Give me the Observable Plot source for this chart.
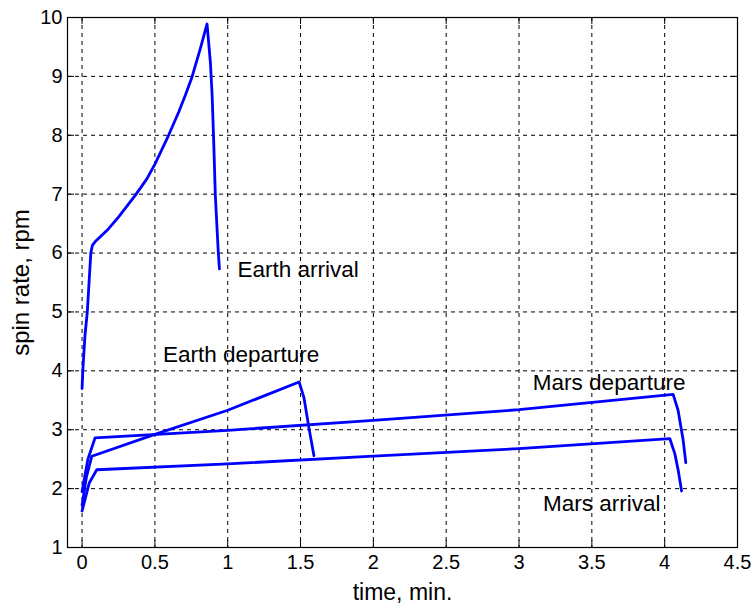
<!DOCTYPE html>
<html>
<head>
<meta charset="utf-8">
<script src="https://cdn.jsdelivr.net/npm/d3@7"></script>
<script src="https://cdn.jsdelivr.net/npm/@observablehq/plot@0.6"></script>
<style>
  html, body { margin: 0; padding: 0; background: #fff; }
  #chart svg { display: block; }
</style>
</head>
<body>
<div id="chart"></div>
<script>
// Series (time in min, spin rate in rpm)
const earthArrivalT = [0, 0.005, 0.02, 0.036, 0.06, 0.071, 0.089, 0.181, 0.25, 0.365, 0.445, 0.502, 0.594, 0.663, 0.709, 0.755, 0.812, 0.858, 0.881, 0.893, 0.904, 0.915, 0.934, 0.943];
const earthArrivalR = [3.7, 4.0, 4.6, 5.0, 6.0, 6.13, 6.19, 6.41, 6.61, 6.98, 7.26, 7.52, 8.0, 8.39, 8.68, 8.99, 9.47, 9.89, 9.24, 8.68, 7.88, 6.98, 6.07, 5.73];

const earthDepartureT = [0, 0.03, 0.067, 0.5, 1.0, 1.49, 1.523, 1.557, 1.592];
const earthDepartureR = [1.72, 2.2, 2.55, 2.92, 3.33, 3.81, 3.55, 3.04, 2.56];

const marsDepartureT = [0, 0.04, 0.089, 1.0, 2.0, 3.0, 4.058, 4.092, 4.127, 4.145];
const marsDepartureR = [1.95, 2.5, 2.86, 2.99, 3.16, 3.34, 3.60, 3.33, 2.82, 2.44];

const marsArrivalT = [0, 0.05, 0.101, 1.0, 2.0, 3.0, 4.035, 4.07, 4.093, 4.116];
const marsArrivalR = [1.62, 2.1, 2.32, 2.42, 2.55, 2.68, 2.85, 2.59, 2.31, 1.96];

// Annotation labels
const labelTexts = ["Earth arrival", "Earth departure", "Mars departure", "Mars arrival"];
const labelT = [1.067, 0.555, 3.095, 3.164];
const labelR = [5.72, 4.28, 3.79, 1.75];

// Ticks
const xTicks = [0, 0.5, 1, 1.5, 2, 2.5, 3, 3.5, 4, 4.5];
const xTickLabels = ["0", "0.5", "1", "1.5", "2", "2.5", "3", "3.5", "4", "4.5"];
const yTicks = [1, 2, 3, 4, 5, 6, 7, 8, 9, 10];
const yTickLabels = ["1", "2", "3", "4", "5", "6", "7", "8", "9", "10"];

const seriesList = [
  {name: "Earth arrival", t: earthArrivalT, r: earthArrivalR},
  {name: "Earth departure", t: earthDepartureT, r: earthDepartureR},
  {name: "Mars departure", t: marsDepartureT, r: marsDepartureR},
  {name: "Mars arrival", t: marsArrivalT, r: marsArrivalR}
];
const lineData = seriesList.flatMap(s => s.t.map((t, i) => ({series: s.name, t, r: s.r[i]})));
const labels = labelTexts.map((text, i) => ({text, t: labelT[i], r: labelR[i]}));

const W = 751, H = 609;
const mL = 67, mR = 14, mT = 17, mB = 62;
const innerH = H - mT - mB;
const innerW = W - mL - mR;
const tickLen = 7;
const font = "'Liberation Sans', Arial, sans-serif";

const chart = Plot.plot({
  width: W,
  height: H,
  marginLeft: mL,
  marginRight: mR,
  marginTop: mT,
  marginBottom: mB,
  style: {fontFamily: font, fontSize: "20px", color: "#000", background: "#fff"},
  x: {domain: [-0.1, 4.5]},
  y: {domain: [1, 10]},
  marks: [
    Plot.gridX(xTicks.filter(d => d < 4.5), {stroke: "#000", strokeOpacity: 1, strokeDasharray: "4,4", strokeWidth: 1}),
    Plot.gridY(yTicks.filter(d => d > 1 && d < 10), {stroke: "#000", strokeOpacity: 1, strokeDasharray: "4,4", strokeWidth: 1}),
    // inward tick marks (MATLAB style)
    Plot.tickX(xTicks, {x: d => d, stroke: "#000", insetTop: innerH - tickLen}),
    Plot.tickX(xTicks, {x: d => d, stroke: "#000", insetBottom: innerH - tickLen}),
    Plot.tickY(yTicks, {y: d => d, stroke: "#000", insetRight: innerW - tickLen}),
    Plot.tickY(yTicks, {y: d => d, stroke: "#000", insetLeft: innerW - tickLen}),
    Plot.axisX(xTicks, {tickSize: 0, tickPadding: 7, fontSize: 20, tickFormat: d => xTickLabels[xTicks.indexOf(d)], label: null}),
    Plot.axisY(yTicks, {tickSize: 0, tickPadding: 5, fontSize: 20, tickFormat: d => yTickLabels[yTicks.indexOf(d)], label: null}),
    Plot.axisX({tickSize: 0, ticks: [], label: "time, min.", labelAnchor: "center", labelArrow: "none", labelOffset: 52, fontSize: 23}),
    Plot.axisY({tickSize: 0, ticks: [], label: "spin rate, rpm", labelAnchor: "center", labelArrow: "none", labelOffset: 56, fontSize: 24}),
    Plot.line(lineData, {x: "t", y: "r", z: "series", stroke: "#0000ff", strokeWidth: 2.8, strokeLinejoin: "round"}),
    Plot.text(labels, {x: "t", y: "r", text: "text", textAnchor: "start", fontSize: 22.5, fill: "#000"}),
    Plot.frame({stroke: "#000", strokeWidth: 1.2})
  ]
});
document.getElementById("chart").appendChild(chart);
</script>
</body>
</html>
